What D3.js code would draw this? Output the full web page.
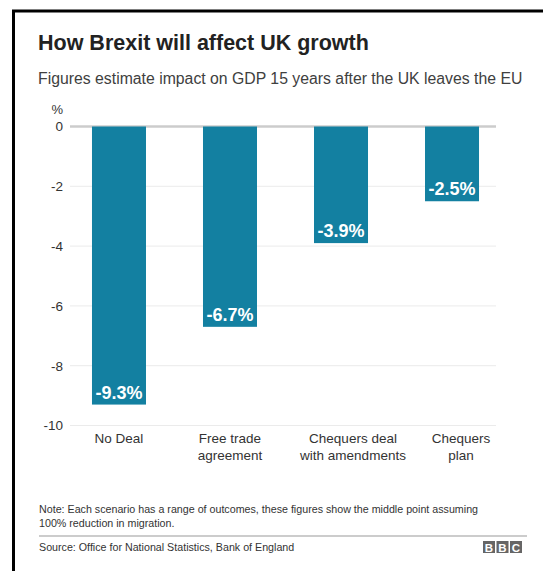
<!DOCTYPE html>
<html>
<head>
<meta charset="utf-8">
<script src="https://cdn.jsdelivr.net/npm/d3@7/dist/d3.min.js"></script>
<style>
  html, body { margin: 0; padding: 0; background: #fff; }
  svg { display: block; font-family: "Liberation Sans", Arial, Helvetica, sans-serif; }
</style>
</head>
<body>
<svg id="chart" width="543" height="571"></svg>
<script>
// GDP impact 15 years after leaving the EU, by scenario (%)
const categories = [["No Deal"], ["Free trade", "agreement"], ["Chequers deal", "with amendments"], ["Chequers", "plan"]];
const values = [-9.3, -6.7, -3.9, -2.5];
const valueLabels = ["-9.3%", "-6.7%", "-3.9%", "-2.5%"];
const yTicks = [0, -2, -4, -6, -8, -10];

const svg = d3.select("#chart");
const barColor = "#1380a1";
// horizontal nudge of the category captions relative to their bar centres
const captionShift = [0, 0, 12, 9];

// Outer frame
svg.append("rect")
  .attr("x", 13.5).attr("y", 11)
  .attr("width", 560).attr("height", 600)
  .attr("fill", "none").attr("stroke", "#000").attr("stroke-width", 3);

// Headings
svg.append("text")
  .attr("x", 38).attr("y", 50)
  .attr("font-size", 21.5).attr("font-weight", "bold").attr("fill", "#222")
  .text("How Brexit will affect UK growth");
svg.append("text")
  .attr("x", 38).attr("y", 84)
  .attr("font-size", 15.8).attr("fill", "#404040")
  .text("Figures estimate impact on GDP 15 years after the UK leaves the EU");

// Scales
const keys = categories.map((c, i) => i);
const x = d3.scaleBand().domain(keys).range([70, 501]).paddingInner(0.5135).paddingOuter(0.198);
const y = d3.scaleLinear().domain([0, -10]).range([126.5, 425.5]);

// Grid lines with tick labels
const grid = svg.append("g");
yTicks.forEach(t => {
  grid.append("line")
    .attr("x1", 70).attr("x2", 496)
    .attr("y1", y(t)).attr("y2", y(t))
    .attr("stroke", t === 0 ? "#cccccc" : "#ebebeb")
    .attr("stroke-width", t === 0 ? 2.5 : 1);
});
const axis = d3.axisLeft(y).tickValues(yTicks).tickSize(0).tickPadding(7).tickFormat(d => String(d));
const axisG = svg.append("g").attr("transform", "translate(70,0)").call(axis);
axisG.select(".domain").remove();
axisG.selectAll("text")
  .attr("font-family", "Liberation Sans, Arial, sans-serif")
  .attr("font-size", 13.5).attr("fill", "#333");
svg.append("text")
  .attr("x", 63).attr("y", 114).attr("text-anchor", "end")
  .attr("font-size", 13).attr("fill", "#333").text("%");

// Bars
svg.append("g").selectAll("rect")
  .data(values)
  .join("rect")
  .attr("x", (d, i) => x(i))
  .attr("width", x.bandwidth())
  .attr("y", y(0))
  .attr("height", d => y(d) - y(0))
  .attr("fill", barColor);

// Value labels inside the bar ends
svg.append("g").selectAll("text")
  .data(values)
  .join("text")
  .attr("x", (d, i) => x(i) + x.bandwidth() / 2)
  .attr("y", d => y(d) - 6)
  .attr("text-anchor", "middle")
  .attr("font-size", 18).attr("font-weight", "bold").attr("fill", "#fff")
  .text((d, i) => valueLabels[i]);

// Category labels below the axis
const cats = svg.append("g").selectAll("text")
  .data(categories)
  .join("text")
  .attr("x", (d, i) => x(i) + x.bandwidth() / 2 + captionShift[i])
  .attr("y", 442.5)
  .attr("text-anchor", "middle")
  .attr("font-size", 13.5).attr("fill", "#333");
cats.selectAll("tspan")
  .data(d => d)
  .join("tspan")
  .attr("x", function () { return d3.select(this.parentNode).attr("x"); })
  .attr("dy", (d, j) => j === 0 ? 0 : 17.5)
  .text(d => d);

// Footnote, rule and source
svg.append("text")
  .attr("x", 39).attr("y", 513)
  .attr("font-size", 10.7).attr("fill", "#333")
  .text("Note: Each scenario has a range of outcomes, these figures show the middle point assuming");
svg.append("text")
  .attr("x", 39).attr("y", 527)
  .attr("font-size", 10.7).attr("fill", "#333")
  .text("100% reduction in migration.");
svg.append("line")
  .attr("x1", 39).attr("x2", 527).attr("y1", 536).attr("y2", 536)
  .attr("stroke", "#bbbbbb").attr("stroke-width", 1.5);
svg.append("text")
  .attr("x", 39).attr("y", 551)
  .attr("font-size", 10.7).attr("fill", "#333")
  .text("Source: Office for National Statistics, Bank of England");

// BBC blocks
const logo = svg.append("g").attr("transform", "translate(483,541)");
["B", "B", "C"].forEach((ch, i) => {
  logo.append("rect")
    .attr("x", i * 13.5).attr("y", 0).attr("width", 12).attr("height", 12)
    .attr("fill", "#666");
  logo.append("text")
    .attr("x", i * 13.5 + 6).attr("y", 10.5)
    .attr("text-anchor", "middle")
    .attr("font-size", 11.5).attr("font-weight", "bold").attr("fill", "#fff")
    .text(ch);
});
</script>
</body>
</html>
